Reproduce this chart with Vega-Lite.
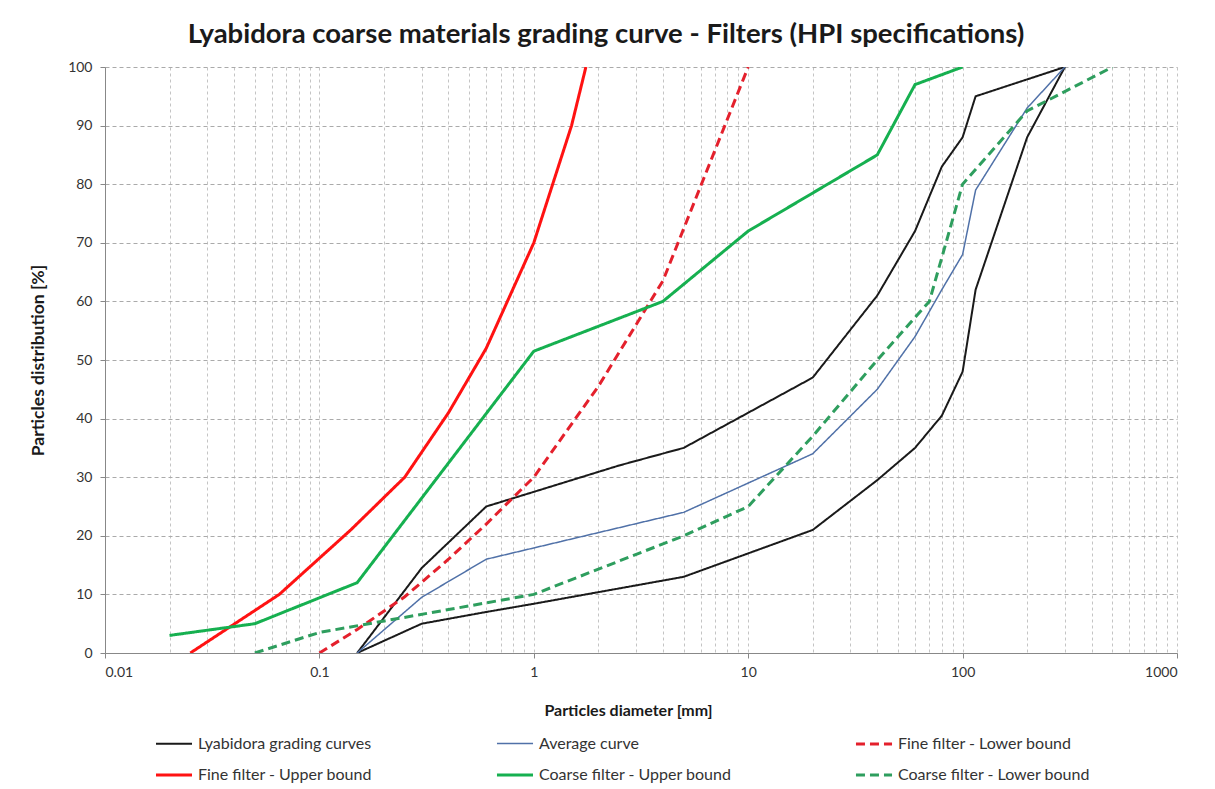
{
  "$schema": "https://vega.github.io/schema/vega-lite/v6.json",
  "width": 1072,
  "height": 586,
  "autosize": {"type": "none"},
  "padding": {"left": 105, "top": 67, "right": 38, "bottom": 136},
  "background": "white",
  "config": {
    "view": {"stroke": null},
    "font": "Lato",
    "title": {"font": "Lato", "fontSize": 27.5, "fontWeight": "bold", "color": "#1a1a1a"},
    "axis": {"labelFont": "Lato", "titleFont": "Lato", "labelColor": "#333", "titleColor": "#1a1a1a"},
    "legend": {"labelFont": "Lato"}
  },
  "title": {
    "text": "Lyabidora coarse materials grading curve - Filters (HPI specifications)",
    "anchor": "middle",
    "offset": 12,
    "dx": -35
  },
  "data": {
    "values": [
      {"series": "Lyabidora grading curves", "curve": "upper", "d": 0.15, "p": 0},
      {"series": "Lyabidora grading curves", "curve": "upper", "d": 0.3, "p": 14.5},
      {"series": "Lyabidora grading curves", "curve": "upper", "d": 0.6, "p": 25},
      {"series": "Lyabidora grading curves", "curve": "upper", "d": 1, "p": 27.5},
      {"series": "Lyabidora grading curves", "curve": "upper", "d": 2.5, "p": 32},
      {"series": "Lyabidora grading curves", "curve": "upper", "d": 5, "p": 35},
      {"series": "Lyabidora grading curves", "curve": "upper", "d": 20, "p": 47},
      {"series": "Lyabidora grading curves", "curve": "upper", "d": 40, "p": 61},
      {"series": "Lyabidora grading curves", "curve": "upper", "d": 60, "p": 72},
      {"series": "Lyabidora grading curves", "curve": "upper", "d": 80, "p": 83},
      {"series": "Lyabidora grading curves", "curve": "upper", "d": 100, "p": 88},
      {"series": "Lyabidora grading curves", "curve": "upper", "d": 115, "p": 95},
      {"series": "Lyabidora grading curves", "curve": "upper", "d": 300, "p": 100},

      {"series": "Lyabidora grading curves", "curve": "lower", "d": 0.15, "p": 0},
      {"series": "Lyabidora grading curves", "curve": "lower", "d": 0.3, "p": 5},
      {"series": "Lyabidora grading curves", "curve": "lower", "d": 0.6, "p": 7},
      {"series": "Lyabidora grading curves", "curve": "lower", "d": 1, "p": 8.4},
      {"series": "Lyabidora grading curves", "curve": "lower", "d": 5, "p": 13},
      {"series": "Lyabidora grading curves", "curve": "lower", "d": 20, "p": 21},
      {"series": "Lyabidora grading curves", "curve": "lower", "d": 40, "p": 29.5},
      {"series": "Lyabidora grading curves", "curve": "lower", "d": 60, "p": 35},
      {"series": "Lyabidora grading curves", "curve": "lower", "d": 80, "p": 40.5},
      {"series": "Lyabidora grading curves", "curve": "lower", "d": 100, "p": 48},
      {"series": "Lyabidora grading curves", "curve": "lower", "d": 115, "p": 62},
      {"series": "Lyabidora grading curves", "curve": "lower", "d": 200, "p": 88},
      {"series": "Lyabidora grading curves", "curve": "lower", "d": 300, "p": 100},

      {"series": "Average curve", "curve": "avg", "d": 0.15, "p": 0},
      {"series": "Average curve", "curve": "avg", "d": 0.3, "p": 9.5},
      {"series": "Average curve", "curve": "avg", "d": 0.6, "p": 16},
      {"series": "Average curve", "curve": "avg", "d": 5, "p": 24},
      {"series": "Average curve", "curve": "avg", "d": 20, "p": 34},
      {"series": "Average curve", "curve": "avg", "d": 40, "p": 45},
      {"series": "Average curve", "curve": "avg", "d": 60, "p": 54},
      {"series": "Average curve", "curve": "avg", "d": 80, "p": 62},
      {"series": "Average curve", "curve": "avg", "d": 100, "p": 68},
      {"series": "Average curve", "curve": "avg", "d": 115, "p": 79},
      {"series": "Average curve", "curve": "avg", "d": 200, "p": 93},
      {"series": "Average curve", "curve": "avg", "d": 300, "p": 100},

      {"series": "Fine filter - Lower bound", "curve": "ffl", "d": 0.1, "p": 0},
      {"series": "Fine filter - Lower bound", "curve": "ffl", "d": 0.15, "p": 4},
      {"series": "Fine filter - Lower bound", "curve": "ffl", "d": 0.25, "p": 9.6},
      {"series": "Fine filter - Lower bound", "curve": "ffl", "d": 0.4, "p": 16},
      {"series": "Fine filter - Lower bound", "curve": "ffl", "d": 0.6, "p": 22},
      {"series": "Fine filter - Lower bound", "curve": "ffl", "d": 1, "p": 30},
      {"series": "Fine filter - Lower bound", "curve": "ffl", "d": 2, "p": 45.5},
      {"series": "Fine filter - Lower bound", "curve": "ffl", "d": 4, "p": 63.5},
      {"series": "Fine filter - Lower bound", "curve": "ffl", "d": 10, "p": 100},

      {"series": "Fine filter - Upper bound", "curve": "ffu", "d": 0.025, "p": 0},
      {"series": "Fine filter - Upper bound", "curve": "ffu", "d": 0.065, "p": 10},
      {"series": "Fine filter - Upper bound", "curve": "ffu", "d": 0.14, "p": 21},
      {"series": "Fine filter - Upper bound", "curve": "ffu", "d": 0.25, "p": 30},
      {"series": "Fine filter - Upper bound", "curve": "ffu", "d": 0.4, "p": 41},
      {"series": "Fine filter - Upper bound", "curve": "ffu", "d": 0.6, "p": 52},
      {"series": "Fine filter - Upper bound", "curve": "ffu", "d": 1, "p": 70},
      {"series": "Fine filter - Upper bound", "curve": "ffu", "d": 1.5, "p": 90},
      {"series": "Fine filter - Upper bound", "curve": "ffu", "d": 1.75, "p": 100},

      {"series": "Coarse filter - Upper bound", "curve": "cfu", "d": 0.02, "p": 3},
      {"series": "Coarse filter - Upper bound", "curve": "cfu", "d": 0.05, "p": 5},
      {"series": "Coarse filter - Upper bound", "curve": "cfu", "d": 0.15, "p": 12},
      {"series": "Coarse filter - Upper bound", "curve": "cfu", "d": 1, "p": 51.5},
      {"series": "Coarse filter - Upper bound", "curve": "cfu", "d": 4, "p": 60},
      {"series": "Coarse filter - Upper bound", "curve": "cfu", "d": 10, "p": 72},
      {"series": "Coarse filter - Upper bound", "curve": "cfu", "d": 40, "p": 85},
      {"series": "Coarse filter - Upper bound", "curve": "cfu", "d": 60, "p": 97},
      {"series": "Coarse filter - Upper bound", "curve": "cfu", "d": 100, "p": 100},

      {"series": "Coarse filter - Lower bound", "curve": "cfl", "d": 0.05, "p": 0},
      {"series": "Coarse filter - Lower bound", "curve": "cfl", "d": 0.1, "p": 3.5},
      {"series": "Coarse filter - Lower bound", "curve": "cfl", "d": 1, "p": 10},
      {"series": "Coarse filter - Lower bound", "curve": "cfl", "d": 5, "p": 20},
      {"series": "Coarse filter - Lower bound", "curve": "cfl", "d": 10, "p": 25},
      {"series": "Coarse filter - Lower bound", "curve": "cfl", "d": 20, "p": 37},
      {"series": "Coarse filter - Lower bound", "curve": "cfl", "d": 40, "p": 50},
      {"series": "Coarse filter - Lower bound", "curve": "cfl", "d": 70, "p": 60},
      {"series": "Coarse filter - Lower bound", "curve": "cfl", "d": 100, "p": 80},
      {"series": "Coarse filter - Lower bound", "curve": "cfl", "d": 200, "p": 92.5},
      {"series": "Coarse filter - Lower bound", "curve": "cfl", "d": 500, "p": 100}
    ]
  },
  "mark": {"type": "line", "strokeCap": "butt", "strokeJoin": "miter", "clip": true},
  "encoding": {
    "x": {
      "field": "d",
      "type": "quantitative",
      "scale": {"type": "log", "domain": [0.01, 1000]},
      "axis": {
        "title": "Particles diameter [mm]",
        "titleFontSize": 16,
        "titleFontWeight": "bold",
        "titlePadding": 23,
        "titleX": 523,
        "labelFontSize": 14,
        "labelPadding": 7,
        "format": "~g",
        "values": [0.01, 0.02, 0.03, 0.04, 0.05, 0.06, 0.07, 0.08, 0.09,
                   0.1, 0.2, 0.3, 0.4, 0.5, 0.6, 0.7, 0.8, 0.9,
                   1, 2, 3, 4, 5, 6, 7, 8, 9,
                   10, 20, 30, 40, 50, 60, 70, 80, 90,
                   100, 200, 300, 400, 500, 600, 700, 800, 900, 1000],
        "labelExpr": "indexof([0.01, 0.1, 1, 10, 100, 1000], datum.value) >= 0 ? datum.label : ''",
        "tickOpacity": {"condition": {"test": "indexof([0.01, 0.1, 1, 10, 100, 1000], datum.value) >= 0", "value": 1}, "value": 0},
        "tickColor": "#888",
        "tickSize": 5,
        "domainColor": "#888",
        "gridColor": "#c4c4c4",
        "gridDash": [3, 3],
        "gridWidth": 1
      }
    },
    "y": {
      "field": "p",
      "type": "quantitative",
      "scale": {"domain": [0, 100], "nice": false},
      "axis": {
        "title": "Particles distribution [%]",
        "titleFontSize": 17.5,
        "titleFontWeight": "bold",
        "titlePadding": 20,
        "labelFontSize": 14,
        "labelPadding": 8,
        "values": [0, 10, 20, 30, 40, 50, 60, 70, 80, 90, 100],
        "tickColor": "#888",
        "tickSize": 5,
        "domainColor": "#888",
        "gridColor": "#aaaaaa",
        "gridDash": [4, 3],
        "gridWidth": 1
      }
    },
    "detail": {"field": "curve", "type": "nominal"},
    "color": {
      "field": "series",
      "type": "nominal",
      "scale": {
        "domain": ["Lyabidora grading curves", "Average curve", "Fine filter - Lower bound", "Fine filter - Upper bound", "Coarse filter - Upper bound", "Coarse filter - Lower bound"],
        "range": ["#1a1a1a", "#5071a8", "#e4202c", "#ff1212", "#16b050", "#2e9e5e"]
      },
      "legend": {
        "title": null,
        "orient": "none",
        "legendX": 49,
        "legendY": 657,
        "direction": "horizontal",
        "columns": 3,
        "gridAlign": "each",
        "columnPadding": 117,
        "rowPadding": 3,
        "symbolType": "stroke",
        "symbolSize": 1300,
        "labelFontSize": 16,
        "labelColor": "#333",
        "labelOffset": 4,
        "labelLimit": 400
      }
    },
    "strokeDash": {
      "field": "series",
      "type": "nominal",
      "scale": {
        "domain": ["Lyabidora grading curves", "Average curve", "Fine filter - Lower bound", "Fine filter - Upper bound", "Coarse filter - Upper bound", "Coarse filter - Lower bound"],
        "range": [[1, 0], [1, 0], [9, 5], [1, 0], [1, 0], [9, 5]]
      }
    },
    "strokeWidth": {
      "field": "series",
      "type": "nominal",
      "scale": {
        "type": "ordinal",
        "domain": ["Lyabidora grading curves", "Average curve", "Fine filter - Lower bound", "Fine filter - Upper bound", "Coarse filter - Upper bound", "Coarse filter - Lower bound"],
        "range": [2, 1.5, 3, 3, 3, 3]
      }
    }
  }
}
